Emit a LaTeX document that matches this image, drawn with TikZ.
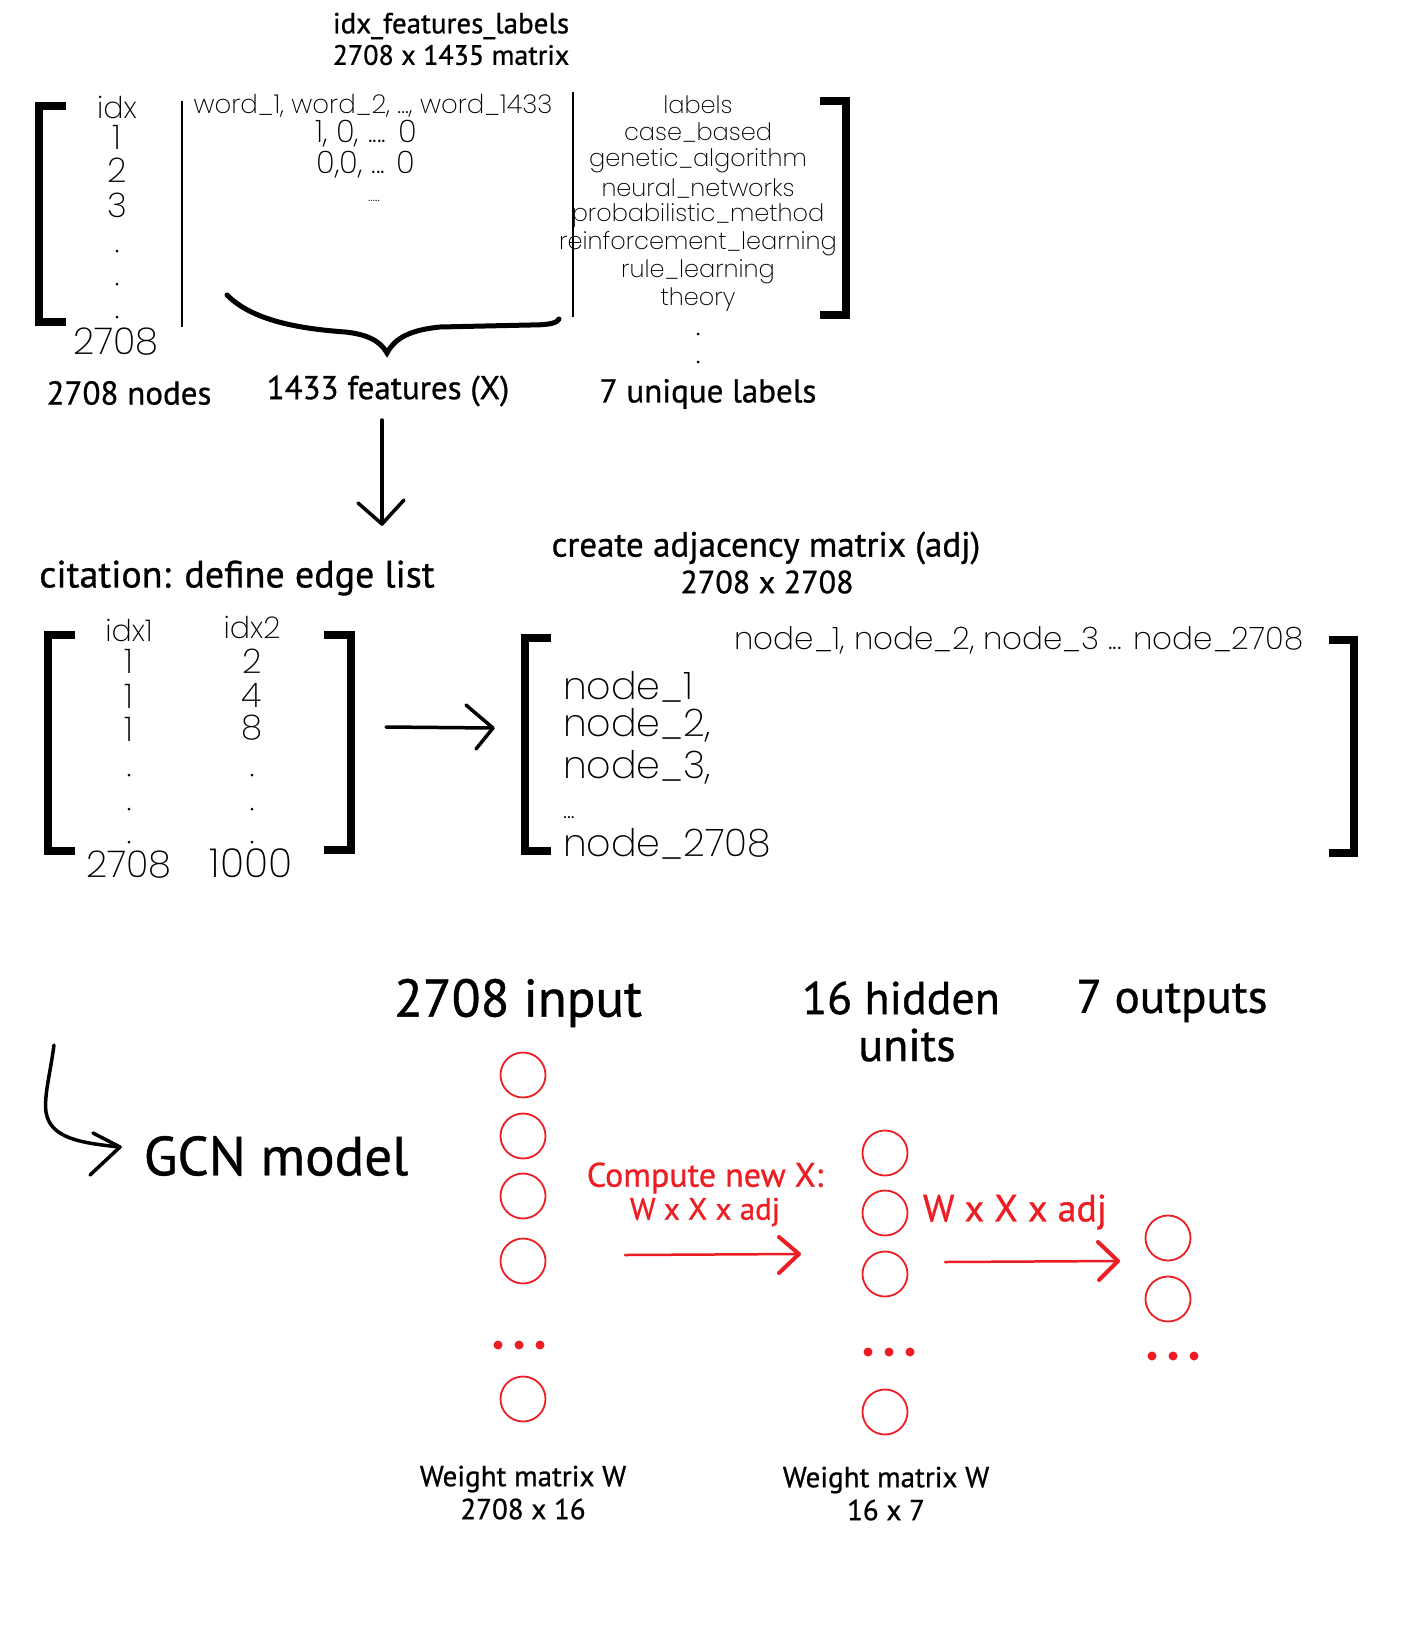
\documentclass[tikz,border=0pt]{standalone}
\usepackage{fontspec}
\setmainfont{PT Sans}[FakeBold=0.8]
\IfFontExistsTF{Poppins ExtraLight}{\newfontfamily\thinf{Poppins ExtraLight}}{%
  \IfFontExistsTF{Poppins Light}{\newfontfamily\thinf{Poppins Light}}{\newfontfamily\thinf{Poppins}}}
\definecolor{redc}{RGB}{236,30,36}
\newcommand\fsz[1]{\fontsize{#1}{#1}\selectfont}
\begin{document}
\begin{tikzpicture}[x=1pt,y=-1pt,
  lab/.style={inner sep=0},
  thin/.style={inner sep=0},
  tight/.style={text height=22, text depth=3},
  brk/.style={line width=8, line join=miter, line cap=butt},
  sepline/.style={line width=2},
  neuron/.style={circle, draw=redc, line width=1.8, minimum size=45, inner sep=0},
  rdot/.style={circle, fill=redc, minimum size=9, inner sep=0},
  bdot/.style={circle, fill=black, minimum size=3, inner sep=0},
  harrow/.style={line width=3.5, line cap=round, line join=round},
  rarrow/.style={draw=redc, line width=2.5, line cap=round, line join=round},
  rhead/.style={draw=redc, line width=4, line cap=round, line join=round},
]
\useasboundingbox (0,0) rectangle (1400,1638);
\fill[white] (0,0) rectangle (1400,1638);

% ---------- top: idx_features_labels ----------
\node[lab, font=\fsz{29}] (t1) at (451,26) {idx\_features\_labels};
\node[lab, font=\fsz{28}] (t2) at (451,55) {2708 x 1435 matrix};

\draw[brk] (66,106) -- (39,106) -- (39,322) -- (66,322);
\node[thin, font=\thinf\fsz{30}] (idx) at (117,107) {idx};
\node[thin, font=\thinf\fsz{34}] (r1) at (117,137) {1};
\node[thin, font=\thinf\fsz{34}] (r2) at (117,170) {2};
\node[thin, font=\thinf\fsz{34}] (r3) at (117,205) {3};
\node[bdot] (d1) at (117,251) {};
\node[bdot] (d2) at (117,284) {};
\node[bdot] (d3) at (117,317) {};
\node[thin, font=\thinf\fsz{37}] (r2708) at (116,342) {2708};

\draw[sepline] (182,101) -- (182,327);
\node[thin, font=\thinf\fsz{26}] (words) at (373,106) {word\_1, word\_2, ..., word\_1433};
\node[thin, tight, font=\thinf\fsz{31}] (v1) at (366,133) {1, 0, .... 0};
\node[thin, tight, font=\thinf\fsz{31}] (v2) at (366,164) {0,0, ... 0};
\node[thin, font=\thinf\fsz{16}] (v3) at (374,201) {.....};

\draw[line width=5, line cap=round] (227,295) .. controls (250,318) and (290,328) .. (345,332)
   .. controls (365,334) and (380,340) .. (387,353)
   .. controls (395,338) and (410,330) .. (440,327)
   -- (530,325) .. controls (550,325) and (557,323) .. (559,319);

\draw[sepline] (573,92) -- (573,317);
\foreach \t [count=\i from 0] in {labels,case\_based,genetic\_algorithm,neural\_networks,probabilistic\_method,reinforcement\_learning,rule\_learning,theory}{
  \node[thin, font=\thinf\fsz{24}] (lab\i) at (698,104.5+27.9*\i) {\t};
}
\node[bdot] (ld1) at (698,334) {};
\node[bdot] (ld2) at (698,362) {};
\draw[brk] (820,101) -- (846,101) -- (846,315) -- (820,315);

\node[lab, font=\fsz{33}] (nodes) at (129,393) {2708 nodes};
\node[lab, font=\fsz{33}] (feat) at (388,391) {1433 features (X)};
\node[lab, font=\fsz{33}] (ulab) at (708,394) {7 unique labels};

\coordinate (a1s) at (382,420);
\coordinate (a1e) at (382,524);
\draw[harrow] (a1s) -- (a1e);
\draw[harrow] (358,503) -- (a1e) -- (404,500);

% ---------- middle ----------
\node[lab, font=\fsz{35}] (adjt) at (766,548) {create adjacency matrix (adj)};
\node[lab, font=\fsz{32}] (adjs) at (767,582) {2708 x 2708};
\node[lab, font=\fsz{38}] (cit) at (237,578) {citation: define edge list};

\draw[brk] (75,635) -- (48,635) -- (48,851) -- (75,851);
\node[thin, font=\thinf\fsz{30}] (i1) at (129,630) {idx1};
\node[thin, font=\thinf\fsz{30}] (i2) at (252,627) {idx2};
\node[thin, font=\thinf\fsz{34}] (e11) at (129,661) {1};
\node[thin, font=\thinf\fsz{34}] (e12) at (129,696) {1};
\node[thin, font=\thinf\fsz{34}] (e13) at (129,729) {1};
\node[thin, font=\thinf\fsz{34}] (e21) at (252,661) {2};
\node[thin, font=\thinf\fsz{34}] (e22) at (252,695) {4};
\node[thin, font=\thinf\fsz{34}] (e23) at (252,728) {8};
\foreach \y [count=\k] in {775,809,842}{
  \node[bdot] (ea\k) at (129,\y) {};
  \node[bdot] (eb\k) at (252,\y) {};
}
\node[thin, font=\thinf\fsz{37}] (e2708) at (129,865) {2708};
\node[thin, font=\thinf\fsz{40}] (e1000) at (251,863) {1000};
\draw[brk] (324,635) -- (351,635) -- (351,850) -- (324,850);

\coordinate (a2s) at (386,727);
\coordinate (a2e) at (493,728);
\draw[harrow] (a2s) -- (a2e);
\draw[harrow] (466,705) -- (a2e) -- (476,749);

\draw[brk] (551,638) -- (525,638) -- (525,851) -- (551,851);
\node[thin, font=\thinf\fsz{31}] (hdr) at (1019,640) {node\_1, node\_2, node\_3 ... node\_2708};
\node[thin, font=\thinf\fsz{38}, anchor=west] (n1) at (563,687) {node\_1};
\node[thin, font=\thinf\fsz{38}, anchor=west] (n2) at (563,725) {node\_2,};
\node[thin, font=\thinf\fsz{38}, anchor=west] (n3) at (563,767) {node\_3,};
\node[thin, font=\thinf\fsz{26}, anchor=west] (ndots) at (563,818) {...};
\node[thin, font=\thinf\fsz{38}, anchor=west] (n2708) at (563,844) {node\_2708};
\draw[brk] (1329,640) -- (1354,640) -- (1354,853) -- (1329,853);

% ---------- bottom: GCN ----------
\node[lab, font=\fsz{53}] (inp) at (518,1003) {2708 input};
\node[lab, font=\fsz{46}] (hid) at (901,998) {16 hidden};
\node[lab, font=\fsz{46}] (units) at (907,1045) {units};
\node[lab, font=\fsz{47}] (outs) at (1172,1001) {7 outputs};

\coordinate (c0) at (54,1045);
\coordinate (c1) at (120,1147);
\draw[harrow] (c0) .. controls (50,1075) and (44,1095) .. (46,1112)
  .. controls (50,1138) and (80,1143) .. (c1);
\draw[harrow] (93,1133) -- (c1) -- (90,1175);
\node[lab, font=\fsz{55}] (gcn) at (276,1156) {GCN model};

\foreach \y [count=\k] in {1075,1136,1196,1261,1399}{
  \node[neuron] (in\k) at (523,\y) {};
}
\foreach \x [count=\k] in {498,519,540}{ \node[rdot] (ind\k) at (\x,1345) {}; }

\node[lab, text=redc, font=\fsz{34}] (comp1) at (705,1178) {Compute new X:};
\node[lab, text=redc, font=\fsz{31}] (comp2) at (705,1212) {W x X x adj};
\coordinate (r1s) at (625,1255);
\coordinate (r1e) at (799,1254);
\draw[rarrow] (r1s) -- (r1e);
\draw[rhead] (779,1237) -- (r1e) -- (779,1273);

\foreach \y [count=\k] in {1153,1213,1274,1412}{
  \node[neuron] (h\k) at (885,\y) {};
}
\foreach \x [count=\k] in {868,889,910}{ \node[rdot] (hd\k) at (\x,1352) {}; }

\node[lab, text=redc, font=\fsz{38}] (comp3) at (1015,1212) {W x X x adj};
\coordinate (r2s) at (945,1262);
\coordinate (r2e) at (1118,1261);
\draw[rarrow] (r2s) -- (r2e);
\draw[rhead] (1098,1242) -- (r2e) -- (1099,1280);

\foreach \y [count=\k] in {1238,1299}{
  \node[neuron] (o\k) at (1168,\y) {};
}
\foreach \x [count=\k] in {1152,1173,1194}{ \node[rdot] (od\k) at (\x,1356) {}; }

\node[lab, font=\fsz{29}] (w1a) at (523,1479) {Weight matrix W};
\node[lab, font=\fsz{29}] (w1b) at (523,1509) {2708 x 16};
\node[lab, font=\fsz{29}] (w2a) at (886,1480) {Weight matrix W};
\node[lab, font=\fsz{29}] (w2b) at (886,1510) {16 x 7};
\end{tikzpicture}
\end{document}
